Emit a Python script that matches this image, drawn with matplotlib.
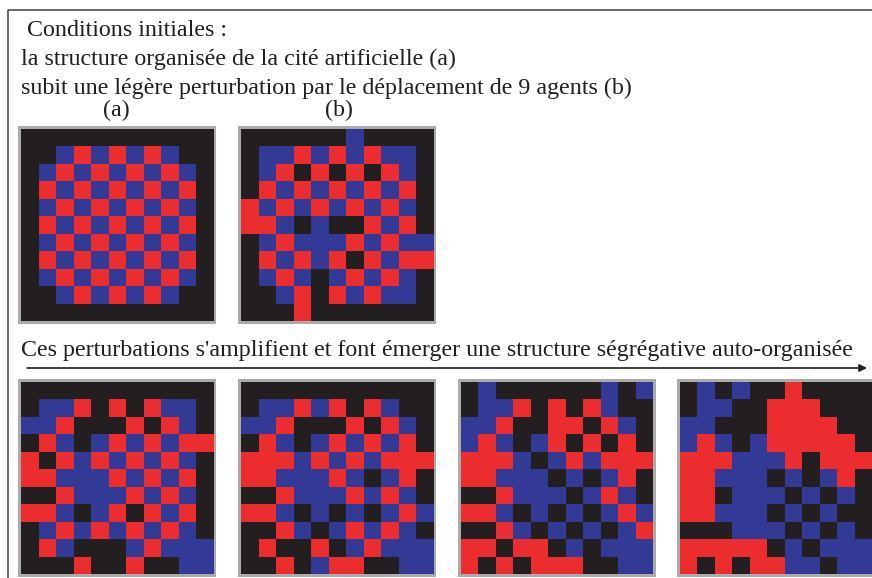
import matplotlib
matplotlib.use("Agg")
import matplotlib.pyplot as plt
import numpy as np
from matplotlib.colors import ListedColormap
from matplotlib.patches import Rectangle

# --- data: cell states (K = empty/black, B = blue agent, R = red agent) ---
grid_a = [
    "KKKKKKKKKKK",
    "KKBRBRBRBKK",
    "KBRBRBRBRBK",
    "KRBRBRBRBRK",
    "KBRBRBRBRBK",
    "KRBRBRBRBRK",
    "KBRBRBRBRBK",
    "KRBRBRBRBRK",
    "KBRBRBRBRBK",
    "KKBRBRBRBKK",
    "KKKKKKKKKKK",
]
grid_b = [
    "KKKKKKBKKKK",
    "KBBRBRBRBBK",
    "KBRKRKRKRBK",
    "KRBRBRBRBRK",
    "RBRBRBRBRBK",
    "RRBKBKKRBRK",
    "KBRBBBRBRBB",
    "KRBRBRKRBRR",
    "KBRBKBRBRBK",
    "KKBRKRBRBBK",
    "KKKRKKKKKKK",
]
grid_c = [
    "KKKKKKKKKKK",
    "KBBRKRKRBBK",
    "BBRKKKRKRBK",
    "KRBKBRBRBRR",
    "RKRBRBRBRBK",
    "RRBBBRBRBRK",
    "KKRBBBRBRBK",
    "RRBKBRKRBRK",
    "KBRBRBRBRBK",
    "KRBKKKBRBBB",
    "KKKRKKRKKBB",
]
grid_d = [
    "KKKKKKKKKKK",
    "KBBRBRKRBKK",
    "BBRKKKRKRBK",
    "KRBKBRBRBRK",
    "RRRBRBRBRRR",
    "RRBBBRBKBRK",
    "KKRBBBRBRBK",
    "RRBKBKBKBRB",
    "KKRBKBRBRBK",
    "KRKKRKBRBBB",
    "KKRKBRRKKBB",
]
grid_e = [
    "KBKKKKKKBKB",
    "KBBRKRKRBKK",
    "BBRKKRRKRBK",
    "BRBKBRKRKRK",
    "RRRBKBRBRRR",
    "RRBBBKBKBRK",
    "KKRBBBKBRBK",
    "RRBKBKBKBRB",
    "KKRBKBKBKBR",
    "RRKRRKBKBBB",
    "RKRKRRRKKBB",
]
grid_f = [
    "KBKBKKRKKKK",
    "KBBKKRRRKKK",
    "BBKKKRRRRKK",
    "BRBKBRRRRRK",
    "RRRBBBRKRRR",
    "RRBBBKBKBRK",
    "RRKBBBKBKBK",
    "RRBBBKBKBKK",
    "KKKBBBKBKBK",
    "RRRRRKBKBBB",
    "RKRKRRBBKBB",
]

title_lines = [
    "Conditions initiales :",
    "la structure organisée de la cité artificielle (a)",
    "subit une légère perturbation par le déplacement de 9 agents (b)",
]
panel_labels = ["(a)", "(b)"]
arrow_text = "Ces perturbations s'amplifient et font émerger une structure ségrégative auto-organisée"

# --- styling ---
state_code = {"K": 0, "B": 1, "R": 2}
cmap = ListedColormap(["#231f20", "#333a96", "#ec2d30"])
ink = "#231f20"
font = "Liberation Serif"

fig = plt.figure(figsize=(8.72, 5.78), dpi=100)
ax = fig.add_axes([0, 0, 1, 1])
ax.set_xlim(0, 872)
ax.set_ylim(578, 0)
ax.axis("off")

# outer frame (left and top edges visible)
ax.plot([8, 8, 872], [578, 10, 10], color="#404040", lw=1.1, solid_capstyle="butt")

size = 192
grids = [
    (grid_a, 21, 129),
    (grid_b, 241, 129),
    (grid_c, 21, 382),
    (grid_d, 241, 382),
    (grid_e, 461, 382),
    (grid_f, 680, 382),
]
for g, x0, y0 in grids:
    arr = np.array([[state_code[c] for c in row] for row in g])
    ax.add_patch(Rectangle((x0 - 3, y0 - 3), size + 6, size + 6,
                           facecolor="#ababab", edgecolor="none", zorder=1))
    ax.imshow(arr, cmap=cmap, vmin=0, vmax=2, interpolation="nearest",
              extent=(x0, x0 + size, y0 + size, y0), origin="upper",
              aspect="auto", zorder=2)

ax.set_xlim(0, 872)
ax.set_ylim(578, 0)

# fit font size so the third header line spans ~610 px
fig.canvas.draw()
r = fig.canvas.get_renderer()
probe = ax.text(0, 0, title_lines[2], fontsize=10, family=font)
w10 = probe.get_window_extent(renderer=r).width
probe.remove()
fs = 10 * 610.0 / w10

ax.text(27, 36, title_lines[0], fontsize=fs, family=font, color=ink, va="baseline")
ax.text(21, 65, title_lines[1], fontsize=fs, family=font, color=ink, va="baseline")
ax.text(21, 94, title_lines[2], fontsize=fs, family=font, color=ink, va="baseline")
ax.text(21 + size / 2 - 1, 116, panel_labels[0], fontsize=fs, family=font, color=ink,
        va="baseline", ha="center")
ax.text(241 + size / 2 + 2, 116, panel_labels[1], fontsize=fs, family=font, color=ink,
        va="baseline", ha="center")
ax.text(21, 356, arrow_text, fontsize=fs, family=font, color=ink, va="baseline")

ax.annotate("", xy=(867, 368), xytext=(27, 368),
            arrowprops=dict(arrowstyle="-|>", lw=1.2, color=ink,
                            mutation_scale=11, shrinkA=0, shrinkB=0))

fig.savefig("out.png", dpi=100)
